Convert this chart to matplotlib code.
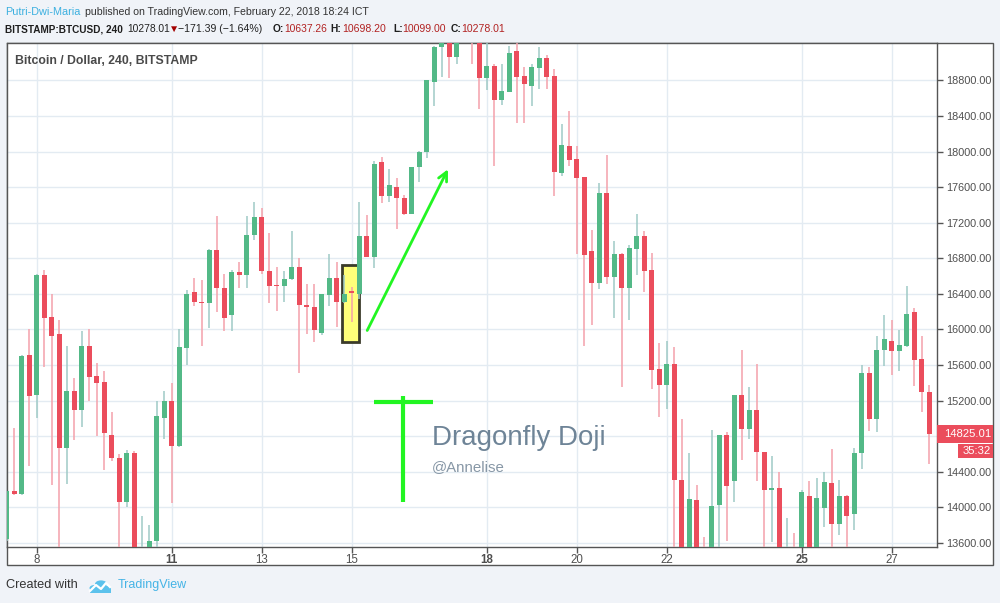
import numpy as np
import matplotlib
matplotlib.use("Agg")
import matplotlib.pyplot as plt
from matplotlib.patches import Rectangle, Circle
import matplotlib.transforms as mtransforms

plt.rcParams['font.family'] = ['Liberation Sans', 'DejaVu Sans']

# 4h candles, BITSTAMP:BTCUSD, Feb 7 - Feb 28 2018
opens = [13649, 14187, 14154, 15711, 15267, 16608, 16137, 15946, 14665, 15312,
         15099, 15816, 15480, 15412, 14815, 14550, 14057, 14613, 13350, 13450,
         13620, 15009, 15199, 14695, 15797, 16417, 16313, 16294, 16888, 16470,
         16159, 16641, 16608, 17060, 17269, 16656, 16496, 16484, 16563, 16708,
         16279, 16249, 15958, 16384, 16574, 16309, 16428, 16402, 17056, 16813,
         17885, 17496, 17605, 17478, 17295, 17821, 17993, 18785, 19177, 19290,
         19065, 19280, 19400, 19300, 18830, 18961, 18580, 18673, 19129, 18852,
         18737, 18942, 19050, 18852, 17754, 18068, 17911, 17709, 16880, 16522,
         17538, 16589, 16850, 16466, 16903, 17056, 16664, 15554, 15379, 15610,
         14311, 13450, 14079, 13520, 13450, 14030, 14815, 14292, 15263, 14878,
         15095, 14621, 14191, 14221, 13400, 13520, 13450, 14124, 13450, 13989,
         14270, 13810, 14124, 13922, 14609, 15513, 14994, 15767, 15868, 15760,
         15812, 16193, 15666, 15300]
highs = [14190, 14890, 15711, 16006, 16619, 16671, 16402, 16103, 15816, 15457,
         15980, 16006, 15625, 15536, 15076, 14602, 14647, 14635, 13900, 13806,
         15199, 15312, 15401, 16006, 16439, 16574, 16552, 16906, 17280, 16619,
         16664, 16757, 17272, 17437, 17362, 17089, 16708, 16656, 17112, 16800,
         16507, 16507, 16395, 16847, 16757, 16608, 16473, 17437, 17291, 17896,
         17941, 17806, 17706, 17511, 17829, 18008, 18800, 19185, 19350, 19400,
         19400, 19600, 19500, 19400, 19240, 18979, 18987, 19185, 19240, 18953,
         18987, 19173, 19084, 18927, 18314, 18456, 18068, 17709, 17123, 17642,
         17963, 17000, 16865, 16947, 17295, 17112, 16858, 15846, 15868, 15805,
         14994, 14613, 14255, 13664, 14871, 14815, 14845, 15263, 15767, 15353,
         15610, 14621, 14579, 14400, 13881, 13709, 14198, 14292, 14326, 14400,
         14662, 14303, 14143, 14673, 15599, 15573, 15928, 16159, 16103, 15991,
         16484, 16242, 15928, 15375]
lows = [13620, 14143, 14135, 14471, 15009, 15580, 14247, 13500, 14258, 14763,
        14908, 15199, 14807, 14423, 14527, 13500, 14000, 13300, 13200, 13400,
        13560, 14774, 14049, 14684, 15599, 16264, 15816, 16017, 16197, 15984,
        15984, 16466, 16466, 17011, 16626, 16298, 16208, 16309, 16552, 15513,
        15950, 15861, 15939, 16264, 16025, 16298, 16081, 16346, 16813, 16686,
        17418, 17433, 17130, 17287, 17295, 17657, 17926, 18516, 18841, 18830,
        18987, 19240, 18979, 18475, 18692, 17840, 18524, 18673, 18326, 18326,
        18516, 18707, 18707, 17504, 17721, 17833, 16850, 15816, 16051, 16454,
        16507, 16130, 15356, 16111, 16608, 16421, 15330, 15020, 15106, 13500,
        13300, 13350, 13350, 13300, 13350, 13500, 13620, 14057, 14535, 14770,
        14292, 13500, 13608, 13300, 13300, 13300, 13350, 13350, 13350, 13780,
        13500, 13687, 13500, 13750, 14434, 14863, 14852, 15592, 15487, 15532,
        15805, 15368, 15076, 14490]
closes = [14187, 14154, 15704, 15256, 16608, 16133, 15928, 14665, 15312, 15099,
          15816, 15468, 15401, 14841, 14550, 14057, 14613, 13450, 13480, 13627,
          15028, 15199, 14695, 15801, 16402, 16309, 16294, 16888, 16466, 16130,
          16641, 16611, 17067, 17269, 16656, 16484, 16484, 16563, 16708, 16275,
          16253, 15995, 16395, 16574, 16309, 16395, 16413, 17056, 16813, 17859,
          17496, 17627, 17478, 17295, 17829, 17997, 18800, 19173, 19290, 19065,
          19260, 19500, 19260, 18830, 18961, 18580, 18680, 19106, 18841, 18763,
          18949, 19050, 18841, 17765, 18075, 17900, 17698, 16832, 16522, 17538,
          16589, 16843, 16466, 16921, 17056, 16656, 15547, 15379, 15610, 14303,
          13400, 14090, 13450, 13420, 14019, 14815, 14236, 15263, 14878, 15095,
          14621, 14191, 14221, 13450, 13500, 13450, 14169, 13450, 14101, 14281,
          13810, 14124, 13907, 14609, 15513, 14994, 15767, 15898, 15760, 15823,
          16171, 15655, 15300, 14825.01]

date_pos = [4, 22, 34, 46, 64, 76, 88, 106, 118]
date_labels = ['8', '11', '13', '15', '18', '20', '22', '25', '27']
bold_labels = ['11', '18', '25']
price_ticks = list(range(13600, 19000, 400))

last_price = 14825.01
countdown = '35:32'

GREEN = '#53b987'
RED = '#eb4d5c'
GREEN_WICK = '#9fcac6'
RED_WICK = '#f4a1ab'
GRID = '#e3ebf2'
SPINE = '#555555'

W, H = 1000, 603
fig = plt.figure(figsize=(W / 100, H / 100), dpi=100, facecolor='#f0f3f8')


def fx(px):
    return px / W


def fy(py):
    return 1 - py / H


# white chart panel (plot + price scale + time scale), behind the axes
fig.patches.append(Rectangle((fx(6.7), fy(565)), fx(993) - fx(6.7), fy(43.3) - fy(565),
                             transform=fig.transFigure, facecolor='white',
                             edgecolor=SPINE, lw=1.0, zorder=-5))

ax = fig.add_axes([fx(6.7), fy(547), fx(936.7) - fx(6.7), fy(43.3) - fy(547)])
ax.set_facecolor('white')
ax_w = ax.get_position().width

x = np.arange(len(opens))
o = np.array(opens, dtype=float)
h = np.array(highs, dtype=float)
l = np.array(lows, dtype=float)
c = np.array(closes, dtype=float)
up = c >= o

body_cols = np.where(up, GREEN, RED)
wick_cols = np.where(up, GREEN_WICK, RED_WICK)

ax.vlines(x, l, h, colors=wick_cols, lw=1.1, zorder=3)
bottoms = np.minimum(o, c)
heights = np.maximum(np.abs(c - o), 14)
ax.bar(x, heights, bottom=bottoms, width=0.66, color=body_cols, lw=0, zorder=4)

# highlighted dragonfly doji
ax.add_patch(Rectangle((44.75, 15864), 2.22, 16727 - 15864, facecolor='#ffff7a',
                       edgecolor='#3b3b2a', lw=2, zorder=2))

# green trend arrow
ax.annotate('', xy=(59.0, 17829), xytext=(47.9, 15961),
            arrowprops=dict(arrowstyle='->', color='#22f522', lw=2, mutation_scale=16),
            zorder=6)

# dragonfly doji symbol
ax.plot([49.0, 56.9], [15181, 15181], color='#22f522', lw=3, solid_capstyle='butt', zorder=6)
ax.plot([52.9, 52.9], [15256, 14060], color='#22f522', lw=3, solid_capstyle='butt', zorder=6)
ax.text(56.75, 14780, 'Dragonfly Doji', fontsize=19.9, color='#6e8497', va='center', ha='left', zorder=6)
ax.text(56.75, 14454, '@Annelise', fontsize=10.8, color='#8797a6', va='center', ha='left', zorder=6)

ax.text(0.0088, 0.965, 'Bitcoin / Dollar, 240, BITSTAMP', transform=ax.transAxes,
        fontsize=8.8, fontweight='bold', color='#4a4a4a', va='center', ha='left')

ax.set_xlim(0, 124)
ax.set_ylim(13555, 19217)

ax.set_xticks(date_pos)
ax.set_xticklabels(date_labels)
for t in ax.get_xticklabels():
    if t.get_text() in bold_labels:
        t.set_fontweight('bold')
ax.set_yticks(price_ticks)
# the 14800 label sits under the last-price marker
ax.set_yticklabels(['' if v == 14800 else f'{v:.2f}' for v in price_ticks])
ax.yaxis.tick_right()
ax.tick_params(axis='y', direction='out', length=4, width=1, color=SPINE,
               labelsize=7.8, labelcolor='#4f4f4f', pad=3)
ax.tick_params(axis='x', direction='out', length=4, width=1, color=SPINE,
               labelsize=8.3, labelcolor='#4f4f4f', pad=1)
ax.grid(True, color=GRID, lw=1)
ax.set_axisbelow(True)
for s in ax.spines.values():
    s.set_color(SPINE)
    s.set_linewidth(1.0)

# last price + countdown labels on the price scale
blend = mtransforms.blended_transform_factory(ax.transAxes, ax.transData)
ax.add_patch(Rectangle((1.0, last_price - 100), fx(993 - 936.7) / ax_w, 200,
                       transform=blend, facecolor=RED, edgecolor='none', clip_on=False, zorder=7))
ax.text(1.0 + fx(991 - 936.7) / ax_w, last_price, f'{last_price:.2f}',
        transform=blend, color='white', fontsize=8.1, va='center', ha='right', clip_on=False, zorder=8)
ax.add_patch(Rectangle((1.0 + fx(958 - 936.7) / ax_w, 14634 - 80),
                       fx(993 - 958) / ax_w, 160,
                       transform=blend, facecolor=RED, edgecolor='none', clip_on=False, zorder=7))
ax.text(1.0 + fx(991 - 936.7) / ax_w, 14634, countdown,
        transform=blend, color='white', fontsize=8.1, va='center', ha='right', clip_on=False, zorder=8)

# header
fig.text(fx(5), fy(12), 'Putri-Dwi-Maria', color='#3cb0e0', fontsize=7.8, va='center')
fig.text(fx(85), fy(12), 'published on TradingView.com, February 22, 2018 18:24 ICT',
         color='#333333', fontsize=7.6, va='center')
row2 = [
    (5, 'BITSTAMP:BTCUSD, 240', '#1e1e1e', 'bold', 7.2),
    (127, '10278.01', '#222222', 'normal', 7.4),
    (169, '\u25bc', '#a30000', 'normal', 7.4),
    (178, '\u2212171.39 (\u22121.64%)', '#222222', 'normal', 7.6),
    (273, 'O:', '#1e1e1e', 'bold', 7.4),
    (284, '10637.26', '#b22222', 'normal', 7.4),
    (330, 'H:', '#1e1e1e', 'bold', 7.4),
    (342, '10698.20', '#b22222', 'normal', 7.6),
    (393, 'L:', '#1e1e1e', 'bold', 7.4),
    (402, '10099.00', '#b22222', 'normal', 7.6),
    (451, 'C:', '#1e1e1e', 'bold', 7.4),
    (461, '10278.01', '#b22222', 'normal', 7.6),
]
for px, txt, col, wt, fs in row2:
    fig.text(fx(px), fy(29), txt, color=col, fontsize=fs, fontweight=wt, va='center')

# footer
fig.text(fx(6), fy(585), 'Created with', color='#333333', fontsize=9.2, va='center')
fig.text(fx(118), fy(585), 'TradingView', color='#45b4e6', fontsize=9.0, va='center')
logo_col = '#5cc2ec'
for cx, cy, r in [(94.5, 588.0, 5.0), (101.0, 584.0, 6.0), (106.5, 588.5, 4.5)]:
    fig.patches.append(Circle((fx(cx), fy(cy)), r / W, transform=fig.transFigure,
                              facecolor=logo_col, edgecolor='none'))
fig.patches.append(Rectangle((fx(90), fy(593)), fx(21), fy(588) - fy(593),
                             transform=fig.transFigure, facecolor=logo_col, edgecolor='none'))
fig.lines.append(plt.Line2D([fx(90), fx(96), fx(101), fx(106), fx(110)],
                            [fy(591), fy(585), fy(589), fy(583), fy(587)],
                            transform=fig.transFigure, color='white', lw=1.6))

fig.savefig('out.png', dpi=100, facecolor=fig.get_facecolor())
